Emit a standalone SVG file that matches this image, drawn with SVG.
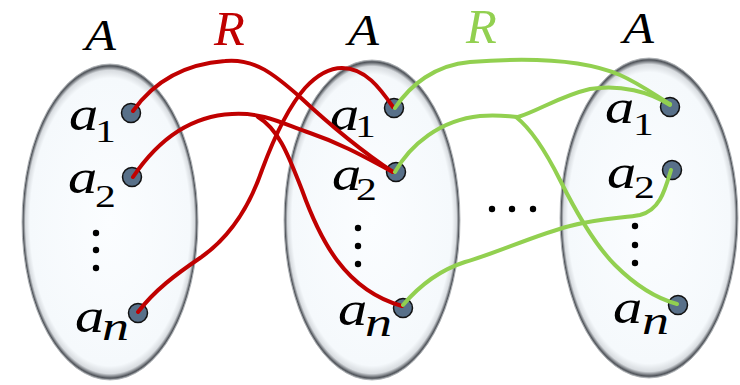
<svg xmlns="http://www.w3.org/2000/svg" width="740" height="385" viewBox="0 0 740 385">
<defs>
<radialGradient id="eg" cx="0.5" cy="0.5" r="0.5">
<stop offset="0" stop-color="#fbfdff"/>
<stop offset="0.91" stop-color="#f5f9fc"/>
<stop offset="0.96" stop-color="#d8dce0"/>
<stop offset="0.988" stop-color="#50545a"/>
<stop offset="1" stop-color="#a4a8ac"/>
</radialGradient>
<style>
.set{fill:url(#eg);stroke:#a4a8ac;stroke-width:0.8}
.dot{fill:#587089;stroke:#111;stroke-width:1.5}
.v{font-family:"Liberation Serif",serif;font-style:italic;fill:#000}
.s{font-family:"Liberation Serif",serif;fill:#000}
.big{font-size:44px}
.a{font-size:48px}
.sub{font-size:32px}
.n{font-size:40px}
.red{fill:none;stroke:#c00000;stroke-width:4;stroke-linecap:round}
.grn{fill:none;stroke:#92d050;stroke-width:4;stroke-linecap:round}
.vd{fill:#000}
</style>
</defs>
<rect width="740" height="385" fill="#fff"/>

<g id="set1">
<ellipse class="set" cx="110" cy="222" rx="88" ry="158"/>
<text class="v big" transform="translate(85,50) scale(1.15,1)">A</text>
<g id="set1-a1"><text class="v a" transform="translate(69,130) scale(1.22,1)">a</text><text class="s sub" transform="translate(95,142) scale(1.3,1)">1</text><circle class="dot" cx="131" cy="113" r="9.5"/></g>
<g id="set1-a2"><text class="v a" transform="translate(68,193) scale(1.22,1)">a</text><text class="s sub" transform="translate(95,207) scale(1.3,1)">2</text><circle class="dot" cx="132" cy="177" r="9.5"/></g>
<circle class="vd" cx="96" cy="233" r="3.2"/><circle class="vd" cx="96" cy="250" r="3.2"/><circle class="vd" cx="96" cy="268" r="3.2"/>
<g id="set1-an"><text class="v a" transform="translate(75,332) scale(1.22,1)">a</text><text class="v n" transform="translate(102,340) scale(1.35,1)">n</text><circle class="dot" cx="138" cy="313" r="9.5"/></g>
</g>

<g id="set2">
<ellipse class="set" cx="372" cy="220" rx="88" ry="160"/>
<text class="v big" transform="translate(348,45) scale(1.15,1)">A</text>
<g id="set2-a1"><text class="v a" transform="translate(330,130) scale(1.22,1)">a</text><text class="s sub" transform="translate(355,137) scale(1.3,1)">1</text><circle class="dot" cx="394" cy="108" r="9.5"/></g>
<g id="set2-a2"><text class="v a" transform="translate(332,190) scale(1.22,1)">a</text><text class="s sub" transform="translate(356,200) scale(1.3,1)">2</text><circle class="dot" cx="396" cy="172" r="9.5"/></g>
<circle class="vd" cx="358" cy="228" r="3.2"/><circle class="vd" cx="358" cy="246" r="3.2"/><circle class="vd" cx="358" cy="264" r="3.2"/>
<g id="set2-an"><text class="v a" transform="translate(338,325) scale(1.22,1)">a</text><text class="v n" transform="translate(365,336) scale(1.35,1)">n</text><circle class="dot" cx="403" cy="308" r="9.5"/></g>
</g>

<g id="set3">
<ellipse class="set" cx="649" cy="218" rx="89" ry="160"/>
<text class="v big" transform="translate(623,43) scale(1.15,1)">A</text>
<g id="set3-a1"><text class="v a" transform="translate(605,123) scale(1.22,1)">a</text><text class="s sub" transform="translate(633,135) scale(1.3,1)">1</text><circle class="dot" cx="670" cy="107" r="9.5"/></g>
<g id="set3-a2"><text class="v a" transform="translate(607,188) scale(1.22,1)">a</text><text class="s sub" transform="translate(634,198) scale(1.3,1)">2</text><circle class="dot" cx="672" cy="170" r="9.5"/></g>
<circle class="vd" cx="635" cy="226" r="3.2"/><circle class="vd" cx="635" cy="245" r="3.2"/><circle class="vd" cx="635" cy="263" r="3.2"/>
<g id="set3-an"><text class="v a" transform="translate(613,323) scale(1.22,1)">a</text><text class="v n" transform="translate(642,334) scale(1.35,1)">n</text><circle class="dot" cx="678" cy="305" r="9.5"/></g>
</g>

<g id="ellipsis">
<circle class="vd" cx="492" cy="209" r="3.2"/><circle class="vd" cx="512" cy="209" r="3.2"/><circle class="vd" cx="533" cy="209" r="3.2"/>
</g>

<g id="connectors">
<path class="red" d="M133,111 C155,80 185,64 225,61 C255,58 275,75 300,97 C330,125 360,150 393,172"/>
<path class="red" d="M133,177 C158,140 190,116 232,114 C265,112 285,125 310,133 C345,145 370,160 393,172"/>
<path class="red" d="M258,117 C280,130 290,160 302,190 C320,240 345,290 402,306"/>
<path class="red" d="M138,312 C155,290 175,275 200,258 C232,236 250,205 262,170 C275,135 290,105 305,88 C318,74 330,68 342,68 C365,68 380,88 393,107"/>
<path class="grn" d="M395,108 C410,85 435,65 470,62 C520,58 580,58 620,75 C640,84 655,95 670,104"/>
<path class="grn" d="M395,172 C410,145 440,120 480,116 C500,114 510,117 518,117 C540,110 560,96 590,89 C620,84 650,92 670,105"/>
<path class="grn" d="M516,117 C530,128 545,150 560,180 C575,210 595,245 615,265 C635,285 655,298 677,304"/>
<path class="grn" d="M403,305 C420,285 440,270 465,262 C500,252 535,235 570,226 C600,218 625,218 640,215 C660,210 665,190 671,170"/>
</g>

<g id="labels">
<text class="v" font-size="48" style="fill:#c00000" transform="translate(214,45) scale(1.05,1)">R</text>
<text class="v" font-size="48" style="fill:#92d050" transform="translate(466,43) scale(1.05,1)">R</text>
</g>
</svg>
